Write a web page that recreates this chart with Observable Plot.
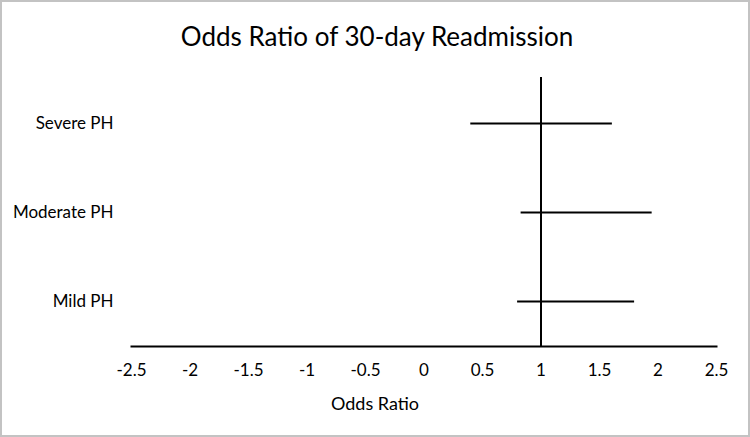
<!DOCTYPE html>
<html>
<head>
<meta charset="utf-8">
<script src="https://cdn.jsdelivr.net/npm/d3@7"></script>
<script src="https://cdn.jsdelivr.net/npm/@observablehq/plot@0.6"></script>
<style>
  html, body { margin: 0; padding: 0; background: #fff; }
  #wrap { position: relative; width: 750px; height: 437px; overflow: hidden; font-family: Lato, "Open Sans", sans-serif; }
  #border { position: absolute; left: 0; top: 0; width: 750px; height: 437px; box-sizing: border-box; border: 2px solid #c3c3c3; pointer-events: none; }
  #title { position: absolute; left: 2px; top: 21px; width: 750px; text-align: center; font-size: 26px; line-height: 30px; color: #000; }
  #xlabel { position: absolute; left: 0; top: 392px; width: 750px; text-align: center; font-size: 18px; line-height: 22px; color: #000; }
  #chart { position: absolute; left: 0; top: 0; }
</style>
</head>
<body>
<div id="wrap">
  <div id="chart"></div>
  <div id="title">Odds Ratio of 30-day Readmission</div>
  <div id="xlabel">Odds Ratio</div>
  <div id="border"></div>
</div>
<script>
const groups = ["Severe PH", "Moderate PH", "Mild PH"];
const lower = [0.40, 0.83, 0.80];
const upper = [1.61, 1.95, 1.80];
const refLine = [1];
const xTicks = [-2.5, -2, -1.5, -1, -0.5, 0, 0.5, 1, 1.5, 2, 2.5];

const rows = groups.map((g, i) => ({group: g, lo: lower[i], hi: upper[i]}));

const chart = Plot.plot({
  width: 750,
  height: 437,
  marginTop: 77,
  marginBottom: 91,
  marginLeft: 131,
  marginRight: 34,
  style: {fontFamily: "Lato, 'Open Sans', sans-serif", fontSize: "17px", color: "#000", background: "transparent"},
  x: {domain: [-2.5, 2.5]},
  y: {type: "point", domain: groups, padding: 0.5},
  marks: [
    Plot.axisX({ticks: xTicks, tickSize: 0, tickPadding: 17, tickFormat: d => String(d), label: null, fontSize: 17}),
    Plot.axisY({tickSize: 0, tickPadding: 18, label: null, fontSize: 17}),
    Plot.frame({anchor: "bottom", stroke: "#000", strokeWidth: 2}),
    Plot.ruleX(refLine, {stroke: "#000", strokeWidth: 2}),
    Plot.ruleY(rows, {y: "group", x1: "lo", x2: "hi", stroke: "#000", strokeWidth: 2})
  ]
});
document.getElementById("chart").appendChild(chart);
</script>
</body>
</html>
